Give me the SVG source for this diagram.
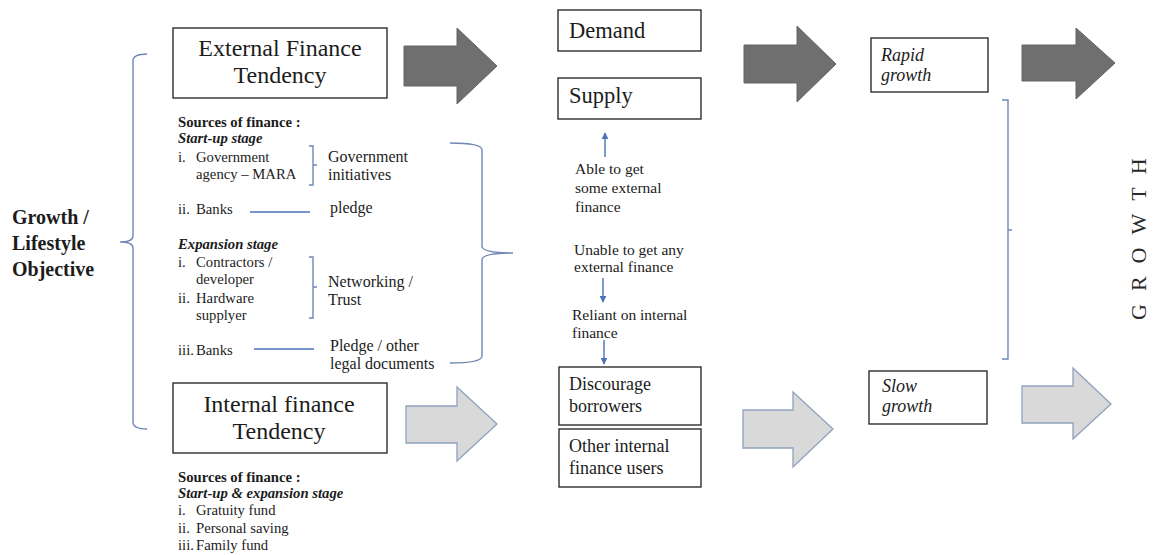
<svg xmlns="http://www.w3.org/2000/svg" width="1153" height="555" viewBox="0 0 1153 555">
  <defs>
    <style>
      text { font-family: "Liberation Serif", "Times New Roman", serif; fill: #1c1c1c; }
      .box { fill: #ffffff; stroke: #2e2e2e; stroke-width: 1.4; }
      .big { font-size: 24px; }
      .mid { font-size: 22.5px; }
      .lbl { font-size: 18px; }
      .it { font-style: italic; font-size: 18px; }
      .src { font-size: 14.7px; }
      .srcb { font-size: 14.7px; font-weight: bold; }
      .srcbi { font-size: 14.7px; font-weight: bold; font-style: italic; }
      .note { font-size: 16px; }
      .flow { font-size: 15.5px; }
      .obj { font-size: 20px; font-weight: bold; }
      .dark { fill: #6f6f6f; stroke: #646464; stroke-width: 1; }
      .light { fill: #d9d9d9; stroke: #8fa1bd; stroke-width: 1.3; }
      .brace { fill: none; stroke: #6f88b8; stroke-width: 1.4; }
      .link { fill: none; stroke: #4a72b8; stroke-width: 1.4; }
    </style>
    <marker id="tri" viewBox="0 0 10 10" refX="9" refY="5" markerWidth="7" markerHeight="7" markerUnits="userSpaceOnUse" orient="auto">
      <path d="M0,0 L10,5 L0,10 z" fill="#4a72b8"/>
    </marker>
  </defs>

  <!-- objective label -->
  <g id="objective">
    <text class="obj" x="12" y="224">Growth /</text>
    <text class="obj" x="12" y="250">Lifestyle</text>
    <text class="obj" x="12" y="276">Objective</text>
  </g>

  <!-- external finance branch -->
  <g id="external">
    <rect class="box" x="173" y="28" width="214" height="70"/>
    <text class="big" x="280" y="56" text-anchor="middle">External Finance</text>
    <text class="big" x="280" y="83" text-anchor="middle">Tendency</text>
  </g>

  <g id="external-sources">
    <text class="srcb" x="178" y="127">Sources of finance :</text>
    <text class="srcbi" x="178" y="143">Start-up stage</text>
    <text class="src" x="178" y="162">i.</text>
    <text class="src" x="196" y="162">Government</text>
    <text class="src" x="196" y="179">agency – MARA</text>
    <text class="src" x="178" y="214">ii.</text>
    <text class="src" x="196" y="214">Banks</text>
    <text class="srcbi" x="178" y="249">Expansion stage</text>
    <text class="src" x="178" y="267">i.</text>
    <text class="src" x="196" y="267">Contractors /</text>
    <text class="src" x="196" y="284">developer</text>
    <text class="src" x="178" y="303">ii.</text>
    <text class="src" x="196" y="303">Hardware</text>
    <text class="src" x="196" y="320">supplyer</text>
    <text class="src" x="178" y="355">iii.</text>
    <text class="src" x="196" y="355">Banks</text>

    <text class="note" x="328" y="162">Government</text>
    <text class="note" x="328" y="180">initiatives</text>
    <text class="note" x="330" y="213">pledge</text>
    <text class="note" x="328" y="287">Networking /</text>
    <text class="note" x="328" y="305">Trust</text>
    <text class="note" x="330" y="351">Pledge / other</text>
    <text class="note" x="330" y="369">legal documents</text>
  </g>

  <!-- internal finance branch -->
  <g id="internal">
    <rect class="box" x="173" y="383" width="214" height="70"/>
    <text class="big" x="279" y="412" text-anchor="middle">Internal finance</text>
    <text class="big" x="279" y="439" text-anchor="middle">Tendency</text>
  </g>

  <g id="internal-sources">
    <text class="srcb" x="178" y="482">Sources of finance :</text>
    <text class="srcbi" x="178" y="498">Start-up &amp; expansion stage</text>
    <text class="src" x="178" y="515">i.</text>
    <text class="src" x="196" y="515">Gratuity fund</text>
    <text class="src" x="178" y="533">ii.</text>
    <text class="src" x="196" y="533">Personal saving</text>
    <text class="src" x="178" y="550">iii.</text>
    <text class="src" x="196" y="550">Family fund</text>
  </g>

  <!-- middle column -->
  <g id="demand">
    <rect class="box" x="558" y="10" width="143" height="41"/>
    <text class="mid" x="569" y="38">Demand</text>
  </g>
  <g id="supply">
    <rect class="box" x="558" y="78" width="143" height="41"/>
    <text class="mid" x="569" y="103">Supply</text>
  </g>
  <g id="able">
    <text class="flow" x="575" y="174">Able to get</text>
    <text class="flow" x="575" y="193">some external</text>
    <text class="flow" x="575" y="212">finance</text>
  </g>
  <g id="unable">
    <text class="flow" x="574" y="255">Unable to get any</text>
    <text class="flow" x="574" y="272">external finance</text>
  </g>
  <g id="reliant">
    <text class="flow" x="572" y="320">Reliant on internal</text>
    <text class="flow" x="572" y="338">finance</text>
  </g>
  <g id="discourage">
    <rect class="box" x="559" y="367" width="142" height="58"/>
    <text class="lbl" x="569" y="390">Discourage</text>
    <text class="lbl" x="569" y="412">borrowers</text>
  </g>
  <g id="other-users">
    <rect class="box" x="559" y="429" width="142" height="58"/>
    <text class="lbl" x="569" y="452">Other internal</text>
    <text class="lbl" x="569" y="474">finance users</text>
  </g>

  <!-- outcomes -->
  <g id="rapid">
    <rect class="box" x="871" y="38" width="117" height="54"/>
    <text class="it" x="881" y="61">Rapid</text>
    <text class="it" x="881" y="81">growth</text>
  </g>
  <g id="slow">
    <rect class="box" x="869" y="371" width="118" height="53"/>
    <text class="it" x="882" y="392">Slow</text>
    <text class="it" x="882" y="412">growth</text>
  </g>
  <g id="growth">
    <text transform="translate(1146,320) rotate(-90)" x="0" y="0" style="font-size:22px; letter-spacing:13px; fill:#2a2a2a">GROWTH</text>
  </g>

  <!-- connectors -->
  <g id="connectors">
    <!-- block arrows -->
    <polygon class="dark" points="404,46 457,46 457,28 497,66 457,104 457,86 404,86"/>
    <polygon class="dark" points="744,45 797,45 797,26 836,64 797,102 797,83 744,83"/>
    <polygon class="dark" points="1022,45 1076,45 1076,28 1115,63 1076,99 1076,81 1022,81"/>
    <polygon class="light" points="406,406 457,406 457,387 497,424 457,461 457,443 406,443"/>
    <polygon class="light" points="743,410 793,410 793,392 833,429 793,467 793,448 743,448"/>
    <polygon class="light" points="1022,386 1073,386 1073,368 1111,404 1073,439 1073,423 1022,423"/>

    <!-- braces and brackets -->
    <path class="brace" d="M147,54 Q133,54 133,61 V236 Q133,242 120,242 Q133,242 133,248 V422 Q133,429 147,429"/>
    <path class="brace" d="M450,143 Q482,143 482,150 V246 Q482,253 513,253 Q482,253 482,260 V356 Q482,363 450,363"/>
    <path class="brace" d="M309,146 H313 V185 H309 M313,165 H317"/>
    <path class="brace" d="M309,257 H313 V318 H309 M313,287 H317"/>
    <path class="brace" d="M1002,100 H1008 V359 H1002 M1008,230 H1012"/>

    <!-- source to condition links -->
    <path class="link" d="M250,212 H310"/>
    <path class="link" d="M254,349 H314"/>

    <!-- flow arrows -->
    <path class="link" d="M605,157 V133" marker-end="url(#tri)"/>
    <path class="link" d="M603,278 V302" marker-end="url(#tri)"/>
    <path class="link" d="M604,340 V364" marker-end="url(#tri)"/>
  </g>
</svg>
